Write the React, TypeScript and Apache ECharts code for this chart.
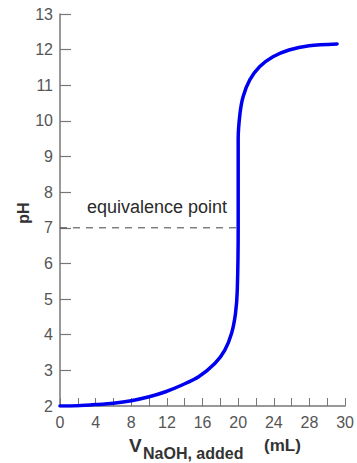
import React, { useEffect, useRef } from "react";
import * as echarts from "echarts";

// Titration curve: volume of NaOH added (mL) vs. pH
const volumeML = [
  0, 2, 4, 6, 8, 10, 11.85, 13.7, 15.56, 17.4, 18.5, 19.26, 19.7, 19.9, 20.0,
  20.0, 20.2, 20.55, 21.3, 22.4, 23.9, 25.7, 27.96, 31.1,
];
const pHValues = [
  2.0, 2.01, 2.04, 2.08, 2.15, 2.26, 2.4, 2.59, 2.82, 3.2, 3.57, 4.04, 4.6,
  5.26, 7.0, 9.5, 10.2, 10.68, 11.15, 11.52, 11.8, 11.99, 12.11, 12.16,
];

const equivalenceVolume = 20;
const equivalencePH = 7;

const xTickLabels: Record<number, string> = {
  0: "0", 4: "4", 8: "8", 12: "12", 16: "16", 20: "20", 24: "24", 28: "28", 32: "30",
};

export default function App() {
  const ref = useRef<HTMLDivElement>(null);

  useEffect(() => {
    if (!ref.current) return;
    const chart = echarts.init(ref.current, undefined, { renderer: "svg" });
    const font = "'Liberation Sans', Arial, sans-serif";
    const axisGray = "#777";
    const labelGray = "#555";

    chart.setOption({
      animation: false,
      backgroundColor: "#fff",
      grid: { left: 60, top: 14, width: 288, height: 392, containLabel: false },
      xAxis: {
        type: "value",
        min: 0,
        max: 32,
        interval: 2,
        axisLine: { show: true, lineStyle: { color: axisGray, width: 1.5 } },
        axisTick: { show: true, inside: true, length: 8, lineStyle: { color: axisGray, width: 1 } },
        splitLine: { show: false },
        axisLabel: {
          margin: 8,
          fontSize: 16,
          fontFamily: font,
          color: labelGray,
          formatter: (v: number) => xTickLabels[v] ?? "",
        },
      },
      yAxis: {
        type: "value",
        min: 2,
        max: 13,
        interval: 1,
        axisLine: { show: true, lineStyle: { color: axisGray, width: 1.5 } },
        axisTick: { show: true, inside: true, length: 11, lineStyle: { color: axisGray, width: 1.2 } },
        splitLine: { show: false },
        axisLabel: { margin: 7, fontSize: 16, fontFamily: font, color: labelGray },
      },
      series: [
        {
          type: "line",
          data: volumeML.map((v, i) => [v, pHValues[i]]),
          showSymbol: false,
          smooth: 0.3,
          lineStyle: { color: "#0000f0", width: 3.5, cap: "round", join: "round" },
          z: 3,
        },
        {
          type: "line",
          data: [
            [0, equivalencePH],
            [equivalenceVolume, equivalencePH],
          ],
          showSymbol: false,
          lineStyle: { color: "#444", width: 1, type: [7, 6] },
          z: 2,
        },
      ],
      graphic: [
        {
          type: "text",
          left: 87,
          top: 198,
          style: { text: "equivalence point", fontSize: 18, fontFamily: font, fill: "#2a2a2a" },
        },
        {
          type: "text",
          x: 23,
          y: 213,
          rotation: Math.PI / 2,
          style: {
            text: "pH",
            fontSize: 16,
            fontWeight: "bold",
            fontFamily: font,
            fill: "#333",
            align: "center",
            verticalAlign: "middle",
          },
        },
        {
          type: "text",
          x: 129,
          y: 445,
          style: {
            text: "V",
            fontSize: 19,
            fontWeight: "bold",
            fontFamily: font,
            fill: "#333",
            verticalAlign: "middle",
          },
        },
        {
          type: "text",
          x: 143,
          y: 453,
          style: {
            text: "NaOH, added",
            fontSize: 16,
            fontWeight: "bold",
            fontFamily: font,
            fill: "#333",
            verticalAlign: "middle",
          },
        },
        {
          type: "text",
          x: 264,
          y: 445,
          style: {
            text: "(mL)",
            fontSize: 17,
            fontWeight: "bold",
            fontFamily: font,
            fill: "#333",
            verticalAlign: "middle",
          },
        },
      ],
    });

    return () => chart.dispose();
  }, []);

  return (
    <div
      ref={ref}
      style={{ position: "fixed", left: 0, top: 0, width: 357, height: 463, background: "#fff" }}
    />
  );
}
